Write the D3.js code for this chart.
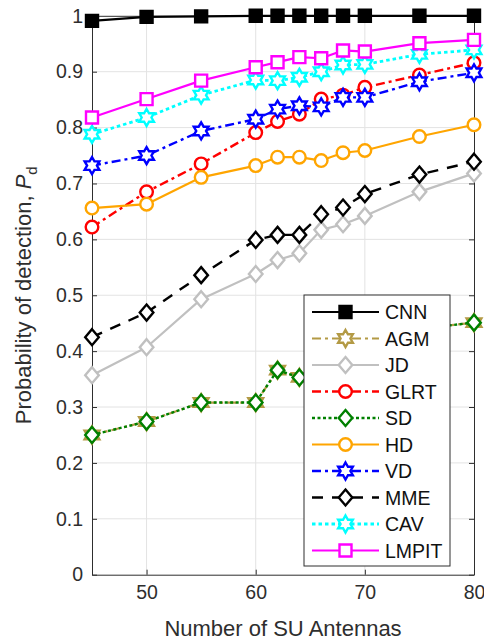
<!DOCTYPE html>
<html>
<head>
<meta charset="utf-8">
<script src="https://cdn.jsdelivr.net/npm/d3@7"></script>
<style>
  html, body { margin: 0; padding: 0; background: #fff; }
  svg { display: block; font-family: "Liberation Sans", Arial, Helvetica, sans-serif; }
</style>
</head>
<body>
<svg id="chart" width="484" height="641"></svg>
<script>
// Number of SU antennas (x axis)
const antennas = [45, 50, 55, 60, 62, 64, 66, 68, 70, 75, 80];

// Probability of detection per detector
const cnn   = [0.991, 0.998, 0.999, 1, 1, 1, 1, 1, 1, 1, 1];
const agm   = [0.250, 0.274, 0.308, 0.308, 0.366, 0.353, 0.380, 0.395, 0.410, 0.440, 0.451];
const jd    = [0.357, 0.407, 0.493, 0.538, 0.563, 0.575, 0.617, 0.627, 0.642, 0.685, 0.718];
const glrt  = [0.622, 0.685, 0.735, 0.791, 0.811, 0.824, 0.851, 0.858, 0.872, 0.894, 0.916];
const sd    = [0.250, 0.274, 0.308, 0.308, 0.366, 0.353, 0.380, 0.395, 0.410, 0.440, 0.451];
const hd    = [0.656, 0.663, 0.711, 0.732, 0.747, 0.747, 0.741, 0.755, 0.759, 0.784, 0.805];
const vd    = [0.732, 0.750, 0.794, 0.815, 0.833, 0.839, 0.837, 0.854, 0.854, 0.882, 0.898];
const mme   = [0.425, 0.469, 0.536, 0.599, 0.608, 0.608, 0.645, 0.657, 0.681, 0.716, 0.739];
const cav   = [0.788, 0.818, 0.858, 0.885, 0.884, 0.890, 0.900, 0.912, 0.913, 0.931, 0.939];
const lmpit = [0.818, 0.851, 0.884, 0.908, 0.917, 0.926, 0.924, 0.938, 0.936, 0.951, 0.957];

// Tick values
const xTicks = [50, 60, 70, 80];
const yTicks = [0, 0.1, 0.2, 0.3, 0.4, 0.5, 0.6, 0.7, 0.8, 0.9, 1];

// Series in plotting order (later ones drawn on top)
const series = [
  { name: "CNN",   values: cnn,   color: "#000000", dash: null,          marker: "square",   fill: "#000000", width: 2.2 },
  { name: "AGM",   values: agm,   color: "#b39a45", dash: "9,4,3,4",     marker: "hexagram", fill: "#fff",    width: 2.2 },
  { name: "JD",    values: jd,    color: "#c0c0c0", dash: null,          marker: "diamond",  fill: "#fff",    width: 2.2 },
  { name: "GLRT",  values: glrt,  color: "#ff0000", dash: "9,4,3,4",     marker: "circle",   fill: "#fff",    width: 2.4 },
  { name: "SD",    values: sd,    color: "#008000", dash: "3,2.5",       marker: "diamond",  fill: "#fff",    width: 2.4 },
  { name: "HD",    values: hd,    color: "#ffa500", dash: null,          marker: "circle",   fill: "#fff",    width: 2.2 },
  { name: "VD",    values: vd,    color: "#0000ff", dash: "9,4,3,4",     marker: "hexagram", fill: "#fff",    width: 2.4 },
  { name: "MME",   values: mme,   color: "#000000", dash: "11,9",        marker: "diamond",  fill: "#fff",    width: 2.4 },
  { name: "CAV",   values: cav,   color: "#00ffff", dash: "3.5,3",       marker: "hexagram", fill: "#fff",    width: 2.8 },
  { name: "LMPIT", values: lmpit, color: "#ff00ff", dash: null,          marker: "square",   fill: "#fff",    width: 2.2 }
];

const svg = d3.select("#chart");
const plotLeft = 92, plotRight = 474, plotTop = 15.8, plotBottom = 574.7;
const axisColor = "#2e2e2e";

const x = d3.scaleLinear().domain([45, 80]).range([plotLeft, plotRight]);
const y = d3.scaleLinear().domain([0, 1]).range([plotBottom, plotTop]);

// Grid
const grid = svg.append("g");
grid.selectAll("line.gx").data(xTicks.filter(t => t < 80)).join("line")
  .attr("x1", d => x(d)).attr("x2", d => x(d))
  .attr("y1", plotTop).attr("y2", plotBottom)
  .attr("stroke", "#e3e3e3").attr("stroke-width", 1);
grid.selectAll("line.gy").data(yTicks.filter(t => t > 0 && t < 1)).join("line")
  .attr("x1", plotLeft).attr("x2", plotRight)
  .attr("y1", d => y(d)).attr("y2", d => y(d))
  .attr("stroke", "#e3e3e3").attr("stroke-width", 1);

// Axes (ticks pointing inward, box on all sides)
const fontSize = 19.5;
svg.append("g").attr("transform", `translate(0,${plotBottom})`)
  .call(d3.axisBottom(x).tickValues(xTicks).tickSizeInner(-5).tickSizeOuter(0).tickPadding(10));
svg.append("g").attr("transform", `translate(${plotLeft},0)`)
  .call(d3.axisLeft(y).tickValues(yTicks).tickSizeInner(-5).tickSizeOuter(0).tickPadding(9)
    .tickFormat(d => d === 0 ? "0" : d === 1 ? "1" : d3.format(".1f")(d)));
svg.append("g").attr("transform", `translate(0,${plotTop})`)
  .call(d3.axisTop(x).tickValues(xTicks).tickSizeInner(-5).tickSizeOuter(0).tickFormat(""));
svg.append("g").attr("transform", `translate(${plotRight},0)`)
  .call(d3.axisRight(y).tickValues(yTicks).tickSizeInner(-5).tickSizeOuter(0).tickFormat(""));

svg.selectAll(".domain").attr("stroke", axisColor).attr("stroke-width", 1);
svg.selectAll(".tick line").attr("stroke", axisColor);
svg.selectAll(".tick text").attr("fill", axisColor)
  .style("font-size", fontSize + "px").style("font-family", "'Liberation Sans', Arial, sans-serif");

// Marker shapes
function hexagramPath(R) {
  const r = R / Math.sqrt(3);
  const pts = [];
  for (let k = 0; k < 12; k++) {
    const a = -Math.PI / 2 + k * Math.PI / 6;
    const rad = k % 2 === 0 ? R : r;
    pts.push([rad * Math.cos(a), rad * Math.sin(a)]);
  }
  return "M" + pts.map(p => p.join(",")).join("L") + "Z";
}
function markerPath(type) {
  switch (type) {
    case "square": { const h = 6; return `M${-h},${-h}H${h}V${h}H${-h}Z`; }
    case "diamond": { const h = 8; return `M0,${-h}L${h * 0.85},0L0,${h}L${-h * 0.85},0Z`; }
    case "circle": { const r = 6.3; return `M${r},0A${r},${r} 0 1,1 ${-r},0A${r},${r} 0 1,1 ${r},0Z`; }
    case "hexagram": return hexagramPath(8.5);
  }
}

// Lines and markers
const line = d3.line().x((d, i) => x(antennas[i])).y(d => y(d));
const plot = svg.append("g");
series.forEach(s => {
  const g = plot.append("g");
  g.append("path").datum(s.values)
    .attr("d", line)
    .attr("fill", "none")
    .attr("stroke", s.color)
    .attr("stroke-width", s.width)
    .attr("stroke-dasharray", s.dash)
    .attr("stroke-linejoin", "round");
  g.selectAll("path.m").data(s.values).join("path")
    .attr("class", "m")
    .attr("transform", (d, i) => `translate(${x(antennas[i])},${y(d)})`)
    .attr("d", markerPath(s.marker))
    .attr("fill", s.fill)
    .attr("stroke", s.color)
    .attr("stroke-width", 2.4)
    .attr("stroke-linejoin", "miter");
});

// Legend
const lg = svg.append("g");
const lx = 304, ly = 295, lw = 146, lh = 271, rowH = 26.5;
lg.append("rect").attr("x", lx).attr("y", ly).attr("width", lw).attr("height", lh)
  .attr("fill", "#fff").attr("stroke", axisColor).attr("stroke-width", 1);
series.forEach((s, i) => {
  const cy = ly + 17 + i * rowH;
  lg.append("line").attr("x1", lx + 8).attr("x2", lx + 75).attr("y1", cy).attr("y2", cy)
    .attr("stroke", s.color).attr("stroke-width", s.width).attr("stroke-dasharray", s.dash);
  lg.append("path").attr("transform", `translate(${lx + 41.5},${cy})`)
    .attr("d", markerPath(s.marker)).attr("fill", s.fill)
    .attr("stroke", s.color).attr("stroke-width", 2.4);
  lg.append("text").attr("x", lx + 81).attr("y", cy).attr("dy", "0.36em")
    .attr("fill", "#111").style("font-size", "19.5px").text(s.name);
});

// Axis titles
svg.append("text").attr("x", (plotLeft + plotRight) / 2).attr("y", 636)
  .attr("text-anchor", "middle").attr("fill", axisColor).style("font-size", "22px")
  .text("Number of SU Antennas");
const yl = svg.append("text")
  .attr("transform", `translate(31,${(plotTop + plotBottom) / 2}) rotate(-90)`)
  .attr("text-anchor", "middle").attr("fill", axisColor).style("font-size", "22px");
yl.append("tspan").text("Probability of detection, ");
yl.append("tspan").attr("font-style", "italic").text("P");
yl.append("tspan").attr("dy", "6").style("font-size", "15px").text("d");
</script>
</body>
</html>
